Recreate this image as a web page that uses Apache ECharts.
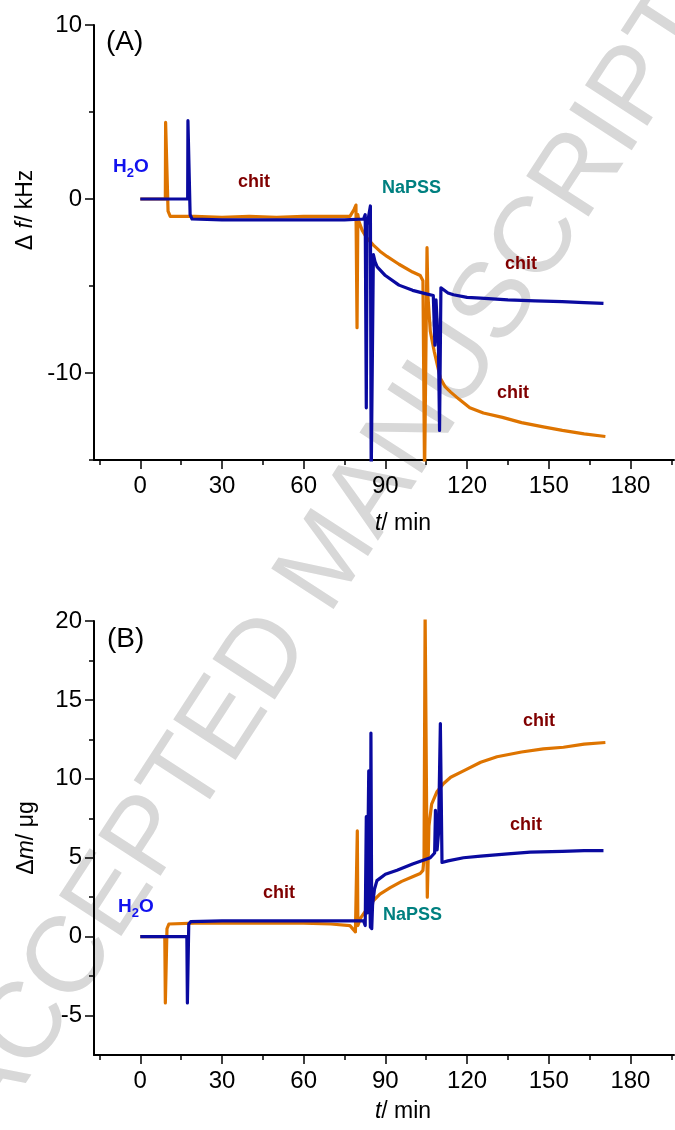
<!DOCTYPE html>
<html lang="en">
<head>
    <meta charset="UTF-8">
    <title>QCM chit / NaPSS</title>
    <script src="https://cdn.jsdelivr.net/npm/echarts@6/dist/echarts.min.js"></script>
    <style>
        html, body {
            padding: 0;
            margin: 0;
        }

        #chart {
            width: 675px;
            height: 1130px;
            background: #fff;
        }
    </style>
</head>
<body>
<div id="chart"></div>
<script>
    // 时间轴刻度
    var xMajor = [0, 30, 60, 90, 120, 150, 180];
    var xMinor = [-15, 15, 45, 75, 105, 135, 165, 195];
    var yMajorA = [-10, 0, 10];
    var yMinorA = [-15, -5, 5];
    var yMajorB = [-5, 0, 5, 10, 15, 20];
    var yMinorB = [-2.5, 2.5, 7.5, 12.5, 17.5];

    // (A) Δf / kHz
    var tOrangeA = [0, 9.2, 9.3, 9.7, 10.2, 11, 20, 30, 40, 50, 60, 70, 77, 78.5, 79.2, 79.6, 79.9, 80.3, 81.5, 83, 85.6, 88, 90.6, 95, 100, 102.8, 103.8, 104.4, 104.9, 105.3, 105.6, 106.5, 108, 110.2, 112, 114, 117, 121, 126, 133, 140, 148, 155, 163, 170.8];
    var fOrangeA = [0, 0, 4.4, 4.4, -0.7, -1.0, -1.0, -1.05, -1.0, -1.05, -1.0, -1.0, -1.0, -0.6, -0.35, -7.4, -0.9, -1.3, -1.8, -2.2, -2.65, -3.0, -3.3, -3.75, -4.2, -4.4, -4.7, -16, -16, -2.8, -5.5, -7.6, -8.8, -10.3, -10.8, -11.1, -11.5, -12.0, -12.3, -12.55, -12.85, -13.1, -13.3, -13.5, -13.65];
    var tBlueA = [0, 17.4, 17.5, 17.8, 18.3, 19, 30, 45, 60, 75, 82, 82.6, 83.0, 83.3, 84.5, 84.8, 85.2, 85.6, 86.2, 87, 90, 95, 100, 105, 107.6, 108.2, 108.6, 109.5, 109.9, 110.4, 111, 113, 115, 120, 125, 135, 145, 155, 163, 170.1];
    var fBlueA = [0, 0, 4.5, 4.5, -0.9, -1.15, -1.2, -1.2, -1.2, -1.2, -1.15, -0.9, -12.0, -1.5, -0.4, -16, -16, -3.2, -3.6, -3.9, -4.4, -4.95, -5.25, -5.45, -5.55, -8.4, -5.8, -8.5, -13.3, -5.1, -5.2, -5.4, -5.5, -5.65, -5.7, -5.8, -5.85, -5.9, -5.95, -6.0];

    // (B) Δm / μg
    var tOrangeB = [0, 9.0, 9.2, 9.4, 9.8, 10.5, 20, 30, 40, 50, 60, 70, 77, 79.0, 79.5, 79.7, 79.9, 80.3, 81, 83, 85.7, 88, 91.8, 96, 100, 102.8, 103.8, 104.2, 104.6, 105.1, 105.4, 106.0, 107, 109, 111.4, 114, 118.7, 125, 131, 140, 148, 155.4, 163, 170.8];
    var mOrangeB = [0, 0, -4.2, -4.2, 0.5, 0.8, 0.85, 0.85, 0.85, 0.85, 0.85, 0.8, 0.7, 0.3, 0.2, 6.7, 0.7, 0.9, 1.2, 1.7, 2.3, 2.7, 3.1, 3.5, 3.8, 4.0, 4.2, 5.0, 20.5, 20.5, 2.5, 7.0, 8.4, 9.2, 9.7, 10.1, 10.5, 11.05, 11.4, 11.7, 11.9, 12.0, 12.2, 12.3];
    var tBlueB = [0, 17.1, 17.3, 17.5, 17.8, 18.5, 30, 45, 60, 75, 82, 82.6, 83.0, 83.3, 83.9, 84.2, 84.5, 84.7, 85.0, 85.3, 86, 86.9, 90, 94.3, 100, 106.5, 108.1, 108.4, 109.0, 109.5, 110.2, 110.8, 111.4, 113, 118.7, 125, 135, 143.2, 155, 163, 170.1];
    var mBlueB = [0, 0, -4.2, -4.2, 0.8, 0.95, 1.0, 1.0, 1.0, 1.0, 1.0, 0.7, 7.6, 1.5, 10.5, 3.0, 0.6, 12.9, 0.5, 2.0, 3.0, 3.55, 3.95, 4.2, 4.6, 5.0, 5.3, 8.0, 5.5, 6.5, 13.5, 4.7, 4.6, 4.8, 5.0, 5.1, 5.25, 5.35, 5.4, 5.45, 5.45];

    function zip(t, v) {
        return t.map(function (x, i) { return [x, v[i]]; });
    }

    var FONT = '"Liberation Sans", Arial, sans-serif';
    var ORANGE = '#DE7400';
    var BLUE = '#0A0AA0';

    function xPair(grid) {
        return [{
            type: 'value', gridIndex: grid, position: 'bottom', min: -17, max: 196,
            axisLine: {show: true, onZero: false, lineStyle: {color: '#000', width: 2}},
            axisTick: {show: true, length: 9, lineStyle: {color: '#000', width: 1.5}, customValues: xMajor},
            axisLabel: {color: '#000', fontSize: 24, fontFamily: FONT, margin: 14, customValues: xMajor},
            splitLine: {show: false}
        }, {
            type: 'value', gridIndex: grid, position: 'bottom', min: -17, max: 196,
            axisLine: {show: false, onZero: false},
            axisTick: {show: true, length: 5, lineStyle: {color: '#000', width: 1.5}, customValues: xMinor},
            axisLabel: {show: false},
            splitLine: {show: false}
        }];
    }

    function yPair(grid, min, max, major, minor) {
        return [{
            type: 'value', gridIndex: grid, position: 'left', min: min, max: max,
            axisLine: {show: true, onZero: false, lineStyle: {color: '#000', width: 2}},
            axisTick: {show: true, length: 9, lineStyle: {color: '#000', width: 1.5}, customValues: major},
            axisLabel: {color: '#000', fontSize: 24, fontFamily: FONT, margin: 12, customValues: major},
            splitLine: {show: false}
        }, {
            type: 'value', gridIndex: grid, position: 'left', min: min, max: max,
            axisLine: {show: false, onZero: false},
            axisTick: {show: true, length: 5, lineStyle: {color: '#000', width: 1.5}, customValues: minor},
            axisLabel: {show: false},
            splitLine: {show: false}
        }];
    }

    function line(xi, yi, data, color) {
        return {
            type: 'line', xAxisIndex: xi, yAxisIndex: yi, data: data,
            showSymbol: false, symbol: 'none', z: 3,
            lineStyle: {color: color, width: 3.2, join: 'round'}
        };
    }

    function note(x, y, text, color) {
        return {
            type: 'text', left: x, top: y, z: 100,
            style: {text: text, fill: color, font: 'bold 18px ' + FONT}
        };
    }

    function water(x, y, text, color) {
        return {
            type: 'text', x: x, y: y, z: 100,
            style: {
                text: text, fill: color, fontFamily: FONT, fontSize: 19, fontWeight: 'bold',
                rich: {s: {fontSize: 13, fontWeight: 'bold', fill: color, fontFamily: FONT, padding: [14, 0, 0, 0]}}
            }
        };
    }

    function axisName(x, y, text, rot) {
        return {
            type: 'text', x: x, y: y, rotation: rot, z: 100,
            style: {
                text: text, fill: '#000', fontFamily: FONT, fontSize: 23,
                align: 'center', verticalAlign: 'middle',
                rich: {
                    i: {fontStyle: 'italic', fontSize: 23, fontFamily: FONT, fill: '#000'},
                    n: {fontSize: 23, fontFamily: FONT, fill: '#000'}
                }
            }
        };
    }

    var dom = document.getElementById('chart');
    var myChart = echarts.init(dom, null, {renderer: 'canvas'});

    var option = {
        animation: false,
        backgroundColor: '#fff',
        grid: [
            {left: 94, top: 25, width: 580, height: 435},
            {left: 94, top: 621, width: 580, height: 434}
        ],
        xAxis: xPair(0).concat(xPair(1)),
        yAxis: yPair(0, -15, 10, yMajorA, yMinorA).concat(yPair(1, -7.5, 20, yMajorB, yMinorB)),
        series: [
            line(0, 0, zip(tOrangeA, fOrangeA), ORANGE),
            line(0, 0, zip(tBlueA, fBlueA), BLUE),
            line(2, 2, zip(tOrangeB, mOrangeB), ORANGE),
            line(2, 2, zip(tBlueB, mBlueB), BLUE)
        ],
        graphic: [
            // 水印
            {
                type: 'text', x: 330, y: 560, rotation: 57 * Math.PI / 180, z: -10,
                style: {
                    text: 'ACCEPTED MANUSCRIPT', fill: '#d8d8d8', fontFamily: FONT, fontSize: 108,
                    align: 'center', verticalAlign: 'middle'
                }
            },
            {type: 'text', left: 106, top: 28, z: 100, style: {text: '(A)', fill: '#000', font: '28px ' + FONT}},
            {type: 'text', left: 107, top: 625, z: 100, style: {text: '(B)', fill: '#000', font: '28px ' + FONT}},
            water(113, 153, 'H{s|2}O', '#1212EE'),
            water(118, 893, 'H{s|2}O', '#1212EE'),
            note(238, 173, 'chit', '#800000'),
            note(382, 179, 'NaPSS', '#008080'),
            note(505, 255, 'chit', '#800000'),
            note(497, 384, 'chit', '#800000'),
            note(263, 884, 'chit', '#800000'),
            note(383, 906, 'NaPSS', '#008080'),
            note(523, 712, 'chit', '#800000'),
            note(510, 816, 'chit', '#800000'),
            axisName(403, 524, '{i|t}{n|/ min}', 0),
            axisName(403, 1112, '{i|t}{n|/ min}', 0),
            axisName(26, 210, '{n|\u0394 }{i|f}{n|/ kHz}', Math.PI / 2),
            axisName(27, 838, '{n|\u0394}{i|m}{n|/ \u03bcg}', Math.PI / 2)
        ]
    };
    myChart.setOption(option);
</script>
</body>
</html>
